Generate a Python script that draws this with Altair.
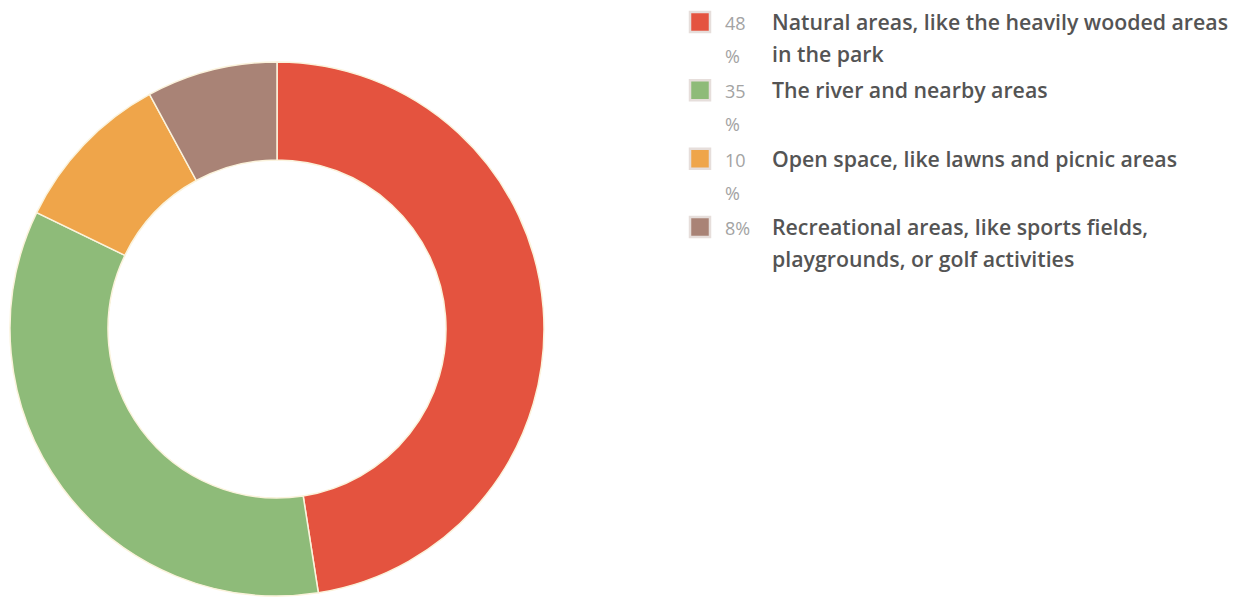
import altair as alt
import pandas as pd

categories = [
    "Natural areas, like the heavily wooded areas\nin the park",
    "The river and nearby areas",
    "Open space, like lawns and picnic areas",
    "Recreational areas, like sports fields,\nplaygrounds, or golf activities",
]
values = [48, 35, 10, 8]
colors = ["#E4533F", "#8EBB79", "#EFA54A", "#A98376"]


def pct_label(v):
    s = f"{v}"
    return f"{s}\n%" if len(s) > 1 else f"{s}%"


df = pd.DataFrame({
    "cat": categories,
    "value": values,
    "order": list(range(len(values))),
    "pct": [pct_label(v) for v in values],
})

color_scale = alt.Scale(domain=categories, range=colors)

base = alt.Chart(df)

donut = base.mark_arc(
    outerRadius=267, innerRadius=169, stroke="#fbf3dc", strokeWidth=1.5
).encode(
    theta=alt.Theta("value:Q", stack=True),
    order=alt.Order("order:Q"),
    color=alt.Color("cat:N", scale=color_scale, legend=None),
    x=alt.value(269),
    y=alt.value(321),
)

yenc = alt.Y("cat:N", sort=categories, axis=None,
             scale=alt.Scale(type="point", range=[14, 219], padding=0))

squares = base.mark_square(size=400, stroke="#e6dedb", strokeWidth=2.5, opacity=1).encode(
    x=alt.value(692),
    y=yenc,
    color=alt.Color("cat:N", scale=color_scale, legend=None),
)

pct_text = base.mark_text(
    align="left", baseline="alphabetic", dy=8, lineBreak="\n", lineHeight=33,
    font="Open Sans", fontSize=18, color="#a3a3a3",
).encode(x=alt.value(717), y=yenc, text="pct:N")

label_text = base.mark_text(
    align="left", baseline="alphabetic", dy=8, lineBreak="\n", lineHeight=32,
    font="Open Sans", fontSize=21.3, fontWeight=600, color="#545454",
).encode(x=alt.value(764), y=yenc, text="cat:N")

chart = alt.layer(donut, squares, pct_text, label_text).properties(
    width=1223, height=589,
    autosize=alt.AutoSizeParams(type="none"),
    padding=0,
).configure_view(stroke=None)

chart.save("out.html", embed_options={"renderer": "svg", "actions": False})
